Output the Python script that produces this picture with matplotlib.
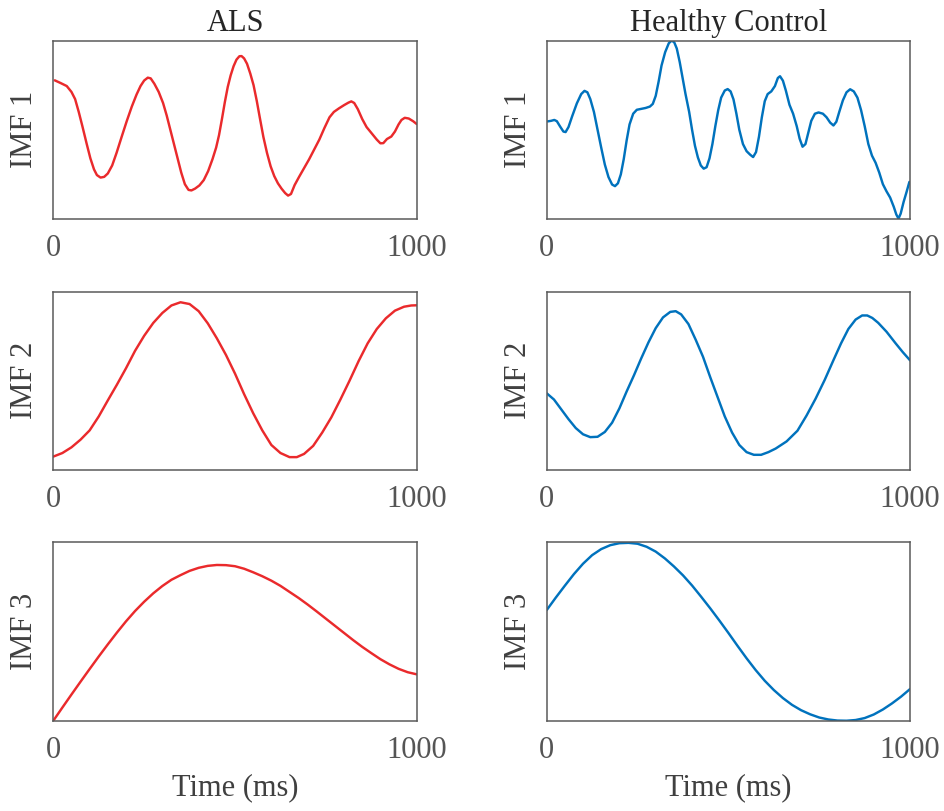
import matplotlib
matplotlib.use("Agg")
import matplotlib.pyplot as plt

# ---------------- data (time in ms, amplitude normalised 0..1)
als_imf1_t = [4, 20, 37, 50, 60, 70, 80, 92, 102, 112, 120, 130, 140, 150, 162, 174, 188,
              202, 216, 229, 240, 250, 260, 268, 278, 290, 302, 312, 322, 332, 342, 352,
              362, 372, 380, 390, 402, 414, 426, 438, 448, 456, 464, 472, 480, 488, 496,
              504, 512, 518, 525, 533, 542, 551, 560, 568, 578, 588, 598, 608, 618, 628,
              638, 646, 654, 664, 676, 690, 704, 718, 732, 746, 760, 772, 786, 800, 812,
              820, 828, 838, 850, 862, 876, 890, 900, 908, 918, 930, 940, 950, 958, 967,
              978, 990, 1000]
als_imf1_y = [0.777, 0.762, 0.745, 0.712, 0.672, 0.600, 0.520, 0.420, 0.340, 0.278, 0.246,
              0.232, 0.236, 0.255, 0.300, 0.370, 0.460, 0.548, 0.630, 0.697, 0.745, 0.776,
              0.792, 0.788, 0.758, 0.712, 0.650, 0.580, 0.500, 0.420, 0.340, 0.260, 0.195,
              0.163, 0.160, 0.170, 0.188, 0.218, 0.268, 0.335, 0.400, 0.470, 0.560, 0.655,
              0.740, 0.805, 0.856, 0.893, 0.912, 0.913, 0.900, 0.870, 0.815, 0.750, 0.660,
              0.570, 0.460, 0.370, 0.295, 0.240, 0.200, 0.170, 0.145, 0.131, 0.140, 0.190,
              0.235, 0.285, 0.335, 0.390, 0.445, 0.510, 0.570, 0.600, 0.620, 0.638, 0.652,
              0.659, 0.650, 0.615, 0.560, 0.515, 0.480, 0.445, 0.424, 0.425, 0.448, 0.462,
              0.490, 0.530, 0.555, 0.567, 0.563, 0.548, 0.532]

hc_imf1_t = [3, 12, 21, 28, 37, 46, 52, 60, 70, 83, 95, 104, 112, 120, 130, 140, 150, 160,
             170, 180, 188, 196, 204, 212, 220, 228, 238, 248, 260, 272, 284, 292, 300, 308,
             316, 326, 336, 344, 351, 358, 366, 374, 382, 392, 400, 408, 416, 424, 432, 440,
             448, 456, 464, 472, 480, 490, 498, 506, 514, 522, 530, 540, 550, 560, 568, 576,
             584, 592, 600, 608, 618, 628, 636, 642, 650, 658, 668, 678, 688, 696, 704, 712,
             720, 728, 738, 748, 760, 770, 780, 789, 797, 805, 815, 825, 835, 845, 855, 865,
             875, 885, 895, 905, 915, 925, 935, 945, 955, 962, 968, 974, 982, 990, 998]
hc_imf1_y = [0.547, 0.550, 0.555, 0.548, 0.518, 0.490, 0.487, 0.515, 0.575, 0.648, 0.700,
             0.718, 0.710, 0.672, 0.600, 0.500, 0.400, 0.305, 0.235, 0.193, 0.184, 0.200,
             0.250, 0.335, 0.440, 0.530, 0.590, 0.612, 0.617, 0.622, 0.630, 0.645, 0.690,
             0.770, 0.860, 0.935, 0.985, 1.000, 0.990, 0.955, 0.880, 0.790, 0.700, 0.600,
             0.500, 0.410, 0.345, 0.300, 0.282, 0.290, 0.340, 0.420, 0.520, 0.610, 0.680,
             0.720, 0.728, 0.715, 0.670, 0.590, 0.500, 0.420, 0.380, 0.360, 0.347, 0.375,
             0.460, 0.570, 0.660, 0.700, 0.715, 0.745, 0.790, 0.800, 0.775, 0.720, 0.640,
             0.590, 0.520, 0.450, 0.405, 0.420, 0.485, 0.550, 0.590, 0.597, 0.590, 0.570,
             0.540, 0.524, 0.545, 0.600, 0.665, 0.710, 0.727, 0.715, 0.680, 0.610, 0.520,
             0.420, 0.355, 0.315, 0.260, 0.195, 0.155, 0.120, 0.068, 0.025, 0.002, 0.030,
             0.095, 0.150, 0.208]

als_imf2_t = [0, 25, 50, 75, 100, 125, 150, 175, 200, 225, 250, 275, 300, 325, 350, 375,
              400, 425, 450, 475, 500, 525, 550, 575, 600, 625, 650, 670, 690, 715, 740,
              765, 790, 815, 840, 865, 890, 915, 940, 965, 985, 1000]
als_imf2_y = [0.075, 0.095, 0.127, 0.170, 0.222, 0.300, 0.390, 0.478, 0.570, 0.668, 0.752,
              0.824, 0.880, 0.922, 0.940, 0.930, 0.890, 0.822, 0.738, 0.645, 0.540, 0.425,
              0.318, 0.222, 0.140, 0.095, 0.072, 0.072, 0.090, 0.135, 0.210, 0.295, 0.395,
              0.500, 0.610, 0.710, 0.790, 0.850, 0.893, 0.915, 0.922, 0.923]

hc_imf2_t = [0, 20, 40, 60, 80, 100, 120, 140, 160, 180, 200, 220, 240, 260, 280, 300, 320,
             340, 355, 370, 390, 410, 430, 450, 470, 490, 510, 530, 550, 570, 590, 610, 630,
             660, 690, 715, 740, 765, 790, 810, 830, 850, 868, 882, 896, 912, 935, 960, 980,
             1000]
hc_imf2_y = [0.430, 0.395, 0.340, 0.285, 0.235, 0.200, 0.184, 0.186, 0.213, 0.265, 0.345,
             0.440, 0.530, 0.625, 0.715, 0.795, 0.855, 0.886, 0.890, 0.872, 0.818, 0.730,
             0.635, 0.520, 0.410, 0.300, 0.210, 0.140, 0.100, 0.085, 0.085, 0.100, 0.120,
             0.160, 0.220, 0.305, 0.400, 0.505, 0.620, 0.710, 0.790, 0.843, 0.866, 0.866,
             0.852, 0.825, 0.775, 0.710, 0.660, 0.614]

als_imf3_t = [0, 25, 50, 75, 100, 125, 150, 175, 200, 225, 250, 275, 300, 325, 350, 375,
              400, 425, 450, 475, 500, 525, 550, 575, 600, 625, 650, 675, 700, 725, 750,
              775, 800, 825, 850, 875, 900, 925, 950, 975, 1000]
als_imf3_y = [0.0, 0.074, 0.147, 0.219, 0.290, 0.360, 0.428, 0.494, 0.557, 0.615, 0.667,
              0.714, 0.755, 0.790, 0.816, 0.840, 0.857, 0.868, 0.873, 0.872, 0.866, 0.852,
              0.832, 0.810, 0.785, 0.756, 0.722, 0.688, 0.651, 0.612, 0.572, 0.532, 0.492,
              0.452, 0.414, 0.379, 0.345, 0.316, 0.291, 0.272, 0.260]

hc_imf3_t = [0, 25, 50, 75, 100, 125, 150, 175, 200, 225, 250, 275, 300, 325, 350, 375,
             400, 425, 450, 475, 500, 525, 550, 575, 600, 625, 650, 675, 700, 725, 750,
             775, 800, 825, 850, 875, 900, 925, 950, 975, 1000]
hc_imf3_y = [0.620, 0.690, 0.757, 0.822, 0.880, 0.928, 0.962, 0.984, 0.995, 0.997, 0.992,
             0.975, 0.948, 0.910, 0.865, 0.815, 0.758, 0.695, 0.630, 0.562, 0.492, 0.420,
             0.350, 0.284, 0.224, 0.172, 0.127, 0.089, 0.059, 0.036, 0.018, 0.007, 0.001,
             0.0, 0.004, 0.015, 0.035, 0.063, 0.097, 0.135, 0.178]

groups = ["ALS", "Healthy Control"]
imf_labels = ["IMF 1", "IMF 2", "IMF 3"]
x_ticks = [0, 1000]

series = [
    [(als_imf1_t, als_imf1_y), (hc_imf1_t, hc_imf1_y)],
    [(als_imf2_t, als_imf2_y), (hc_imf2_t, hc_imf2_y)],
    [(als_imf3_t, als_imf3_y), (hc_imf3_t, hc_imf3_y)],
]
colors = ["#EA2A2C", "#0072BD"]

plt.rcParams['font.family'] = ['Liberation Serif', 'DejaVu Serif']

fig = plt.figure(figsize=(9.45, 8.11), dpi=100)

col_left = [0.0564, 0.5785]
col_width = 0.3846
row_bottom = [0.7300, 0.4205, 0.1113]
row_height = 0.2200

for r in range(3):
    for c in range(2):
        ax = fig.add_axes([col_left[c], row_bottom[r], col_width, row_height])
        t, y = series[r][c]
        ax.plot(t, y, color=colors[c], lw=1.75, solid_joinstyle='round',
                solid_capstyle='round')
        ax.set_xlim(0, 1000)
        ax.set_ylim(0, 1)
        ax.set_xticks(x_ticks)
        ax.set_yticks([])
        ax.tick_params(axis='x', length=0, pad=11, labelsize=22, colors='#555555')
        for s in ax.spines.values():
            s.set_color('#5a5a5a')
            s.set_linewidth(1.1)
        ax.set_ylabel(imf_labels[r], fontsize=22, color='#404040', labelpad=10)
        if r == 0:
            ax.set_title(groups[c], fontsize=22, color='#262626', pad=7)
        if r == 2:
            ax.set_xlabel("Time (ms)", fontsize=22, color='#404040', labelpad=6)

fig.savefig("out.png", dpi=100)
